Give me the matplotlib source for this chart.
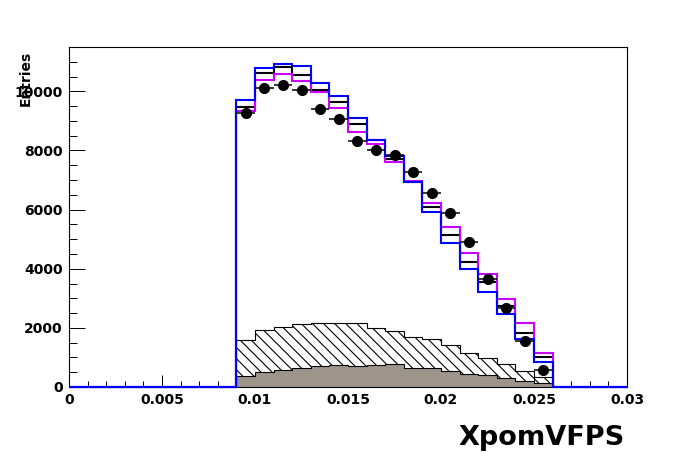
import numpy as np
import matplotlib
matplotlib.use("Agg")
import matplotlib.pyplot as plt
from matplotlib.ticker import MultipleLocator

plt.rcParams['font.family'] = ['DejaVu Sans']
plt.rcParams['font.weight'] = 'bold'
plt.rcParams['hatch.linewidth'] = 0.8

# binning: 30 bins of 0.001 from 0 to 0.03, filled bins are 0.009 .. 0.026
edges = np.linspace(0.0, 0.03, 31)
first_bin = 9
n_filled = 17

# data points (bin centres 0.0095 .. 0.0255)
data_y = [9264, 10115, 10227, 10058, 9403, 9075, 8329, 8024, 7854, 7268,
          6556, 5878, 4895, 3641, 2658, 1549, 566]

# MC histograms
blue_y = [9719, 10803, 10939, 10848, 10271, 9831, 9085, 8339, 7825, 6930,
          5930, 4881, 4000, 3220, 2475, 1617, 847]
magenta_y = [9322, 10397, 10600, 10339, 9980, 9447, 8620, 8230, 7622, 6955,
             6217, 5424, 4542, 3820, 2973, 2169, 1166]
black_y = [9458, 10610, 10814, 10542, 10058, 9627, 8910, 8350, 7708, 6940,
           6092, 5142, 4227, 3539, 2746, 1831, 1017]

# background components
hatched_y = [1573, 1912, 2013, 2115, 2149, 2149, 2149, 1980, 1898, 1708,
             1607, 1437, 1166, 997, 793, 532, 329]
gray_y = [370, 509, 566, 644, 712, 745, 701, 735, 769, 657,
          657, 532, 454, 397, 319, 217, 149]

xticks = [0, 0.005, 0.01, 0.015, 0.02, 0.025, 0.03]
xticklabels = ['0', '0.005', '0.01', '0.015', '0.02', '0.025', '0.03']
yticks = [0, 2000, 4000, 6000, 8000, 10000]
yticklabels = ['0', '2000', '4000', '6000', '8000', '10000']


def full(vals):
    h = np.zeros(len(edges) - 1)
    h[first_bin:first_bin + len(vals)] = vals
    return h


fig = plt.figure(figsize=(6.96, 4.72), dpi=100)
ax = fig.add_axes([69 / 696, 85 / 472, 558 / 696, 340 / 472])

sub_edges = edges[first_bin:first_bin + n_filled + 1]
ax.stairs(hatched_y, sub_edges, fill=True, facecolor='white', edgecolor='black',
          hatch='\\\\\\', linewidth=0.8, zorder=1)
ax.stairs(gray_y, sub_edges, fill=True, facecolor='#9d958b', edgecolor='black',
          linewidth=0.8, zorder=2)

ax.stairs(full(black_y), edges, color='black', linewidth=1.5, zorder=3, clip_on=False)
ax.stairs(full(magenta_y), edges, color='#cc00ff', linewidth=1.5, zorder=4, clip_on=False)
ax.stairs(full(blue_y), edges, color='#0000ff', linewidth=1.5, zorder=5, clip_on=False)

centers = 0.5 * (sub_edges[:-1] + sub_edges[1:])
ax.errorbar(centers, data_y, xerr=0.0005, yerr=np.sqrt(data_y), fmt='o',
            color='black', ms=7, elinewidth=1.1, capsize=0, zorder=6)

ax.set_xlim(0, 0.03)
ax.set_ylim(0, 11500)

ax.set_xticks(xticks)
ax.set_xticklabels(xticklabels)
ax.set_yticks(yticks)
ax.set_yticklabels(yticklabels)
ax.xaxis.set_minor_locator(MultipleLocator(0.001))
ax.yaxis.set_minor_locator(MultipleLocator(500))

ax.tick_params(axis='x', which='major', direction='in', length=8.4, width=0.7,
               labelsize=10, pad=4)
ax.tick_params(axis='x', which='minor', direction='in', length=4.1, width=0.7)
ax.tick_params(axis='y', which='major', direction='in', length=11.3, width=0.7,
               labelsize=10, pad=4.5)
ax.tick_params(axis='y', which='minor', direction='in', length=5.8, width=0.7)
ax.tick_params(top=False, right=False)
for s in ax.spines.values():
    s.set_linewidth(0.8)

fig.text(625 / 696, (472 - 445) / 472, 'XpomVFPS', ha='right', va='baseline',
         fontsize=19.5, fontweight='bold')
fig.text(26 / 696, (472 - 51) / 472, 'Entries', rotation=90, ha='center',
         va='top', fontsize=10, fontweight='bold')

fig.savefig('out.png', dpi=100)
